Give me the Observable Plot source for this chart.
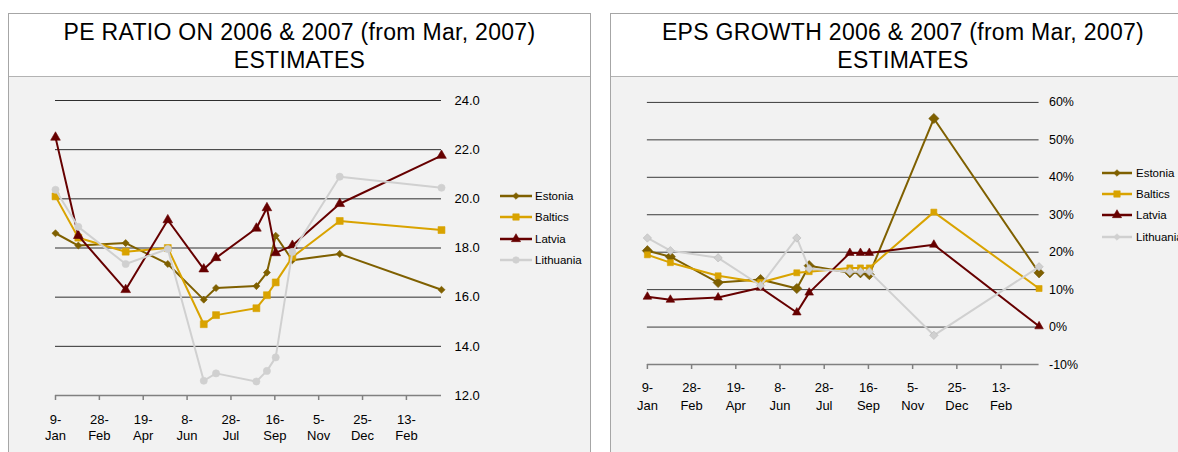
<!DOCTYPE html>
<html><head><meta charset="utf-8">
<script src="https://cdn.jsdelivr.net/npm/d3@7"></script>
<script src="https://cdn.jsdelivr.net/npm/@observablehq/plot@0.6"></script>
<style>
body{margin:0;background:#fff;font-family:"Liberation Sans",Arial,sans-serif;}
#root{position:relative;width:1178px;height:452px;overflow:hidden;background:#fff;}
.panel{position:absolute;top:13px;height:470px;border:1px solid #a6a6a6;background:#fff;box-sizing:border-box;}
.title{height:63px;text-align:center;font-size:23px;letter-spacing:0.3px;line-height:28px;padding-top:4px;box-sizing:border-box;border-bottom:1px solid #b3b3b3;color:#000;white-space:nowrap;}
.area{position:absolute;top:63px;left:0;right:0;bottom:0;background:#f2f2f2;}
.area svg{position:absolute;left:0;top:0;}
.legend{position:absolute;left:0;top:0;overflow:visible;}
</style>
</head><body>
<div id="root">
  <div class="panel" id="p1" style="left:8px;width:583px;">
    <div class="title">PE RATIO ON 2006 &amp; 2007 (from Mar, 2007)<br>ESTIMATES</div>
    <div class="area" id="a1"></div>
  </div>
  <div class="panel" id="p2" style="left:610px;width:600px;">
    <div class="title" style="width:584px">EPS GROWTH 2006 &amp; 2007 (from Mar, 2007)<br>ESTIMATES</div>
    <div class="area" id="a2"></div>
  </div>
</div>
<script>
// ---- data ----
const seriesNames = ["Estonia", "Baltics", "Latvia", "Lithuania"];
const seriesColors = ["#7f6000", "#d9a300", "#660000", "#d0d0d0"];

const tickDates = ["2006-01-09","2006-02-28","2006-04-19","2006-06-08","2006-07-28","2006-09-16","2006-11-05","2006-12-25","2007-02-13"];
const tickLabels = ["9-Jan","28-Feb","19-Apr","8-Jun","28-Jul","16-Sep","5-Nov","25-Dec","13-Feb"];

// PE ratio chart
const peDates = ["2006-01-09","2006-02-04","2006-03-30","2006-05-17","2006-06-27","2006-07-11","2006-08-26","2006-09-07","2006-09-17","2006-10-06","2006-11-29","2007-03-25"];
const peEstonia   = [18.6, 18.1, 18.2, 17.35, 15.9, 16.37, 16.45, 17.0, 18.5, 17.5, 17.76, 16.3];
const peBaltics   = [20.1, 18.42, 17.85, 18.0, 14.9, 15.27, 15.55, 16.08, 16.6, 17.63, 19.1, 18.73];
const peLatvia    = [22.5, 18.5, 16.3, 19.14, 17.14, 17.6, 18.8, 19.63, 17.8, 18.1, 19.8, 21.76];
const peLithuania = [20.37, 18.86, 17.35, 17.96, 12.6, 12.9, 12.57, 13.0, 13.55, 17.84, 20.9, 20.45];
const peTicks = [12, 14, 16, 18, 20, 22, 24];

// EPS growth chart (%)
const epsDates = ["2006-01-09","2006-02-04","2006-03-30","2006-05-17","2006-06-27","2006-07-11","2006-08-26","2006-09-07","2006-09-17","2006-11-29","2007-03-28"];
const epsEstonia   = [20.4, 18.8, 11.9, 12.7, 10.3, 16.4, 14.5, 14.5, 14.0, 55.7, 14.5];
const epsBaltics   = [19.3, 17.2, 13.7, 11.9, 14.5, 14.8, 15.8, 15.8, 15.8, 30.7, 10.3];
const epsLatvia    = [8.1, 7.3, 7.9, 10.5, 3.9, 9.2, 19.8, 19.8, 19.8, 22.0, 0.2];
const epsLithuania = [23.8, 20.4, 18.5, 11.1, 23.8, 15.6, 14.8, 14.8, 14.8, -2.2, 16.1];
const epsTicks = [-10, 0, 10, 20, 30, 40, 50, 60];

// ---- build ----
const font = "'Liberation Sans', Arial, sans-serif";
const labelOf = new Map(tickDates.map((d, i) => [+new Date(d), tickLabels[i].replace("-", "-\n")]));

function rowsOf(dates, arrays) {
  const rows = [];
  arrays.forEach((vals, s) => vals.forEach((v, i) => rows.push({date: new Date(dates[i]), value: v, series: seriesNames[s]})));
  return rows;
}

function seriesMarks(rows, styles) {
  const marks = [];
  seriesNames.forEach((name, i) => {
    const d = rows.filter(r => r.series === name);
    const st = styles[i];
    marks.push(Plot.line(d, {x: "date", y: "value", stroke: seriesColors[i], strokeWidth: 2}));
    marks.push(Plot.dot(d, {x: "date", y: "value", symbol: st.symbol, r: st.r, fill: st.fill || seriesColors[i], stroke: st.stroke || seriesColors[i], strokeWidth: st.sw || 0.6}));
  });
  return marks;
}

function legend(container, styles, x0, x1, xt, ys, fs) {
  const svg = d3.select(container).append("svg").attr("class", "legend").attr("width", 700).attr("height", 300)
    .style("font-family", font).style("font-size", fs + "px");
  const symMap = {diamond2: d3.symbolDiamond2, square: d3.symbolSquare, triangle: d3.symbolTriangle, circle: d3.symbolCircle};
  seriesNames.forEach((name, i) => {
    const y = ys[i], st = styles[i];
    svg.append("line").attr("x1", x0).attr("x2", x1).attr("y1", y).attr("y2", y).attr("stroke", seriesColors[i]).attr("stroke-width", 2.5);
    svg.append("path").attr("transform", `translate(${(x0 + x1) / 2},${y})`)
      .attr("d", d3.symbol(symMap[st.symbol], Math.PI * st.lr * st.lr)())
      .attr("fill", seriesColors[i]).attr("stroke", seriesColors[i]).attr("stroke-width", 0.6);
    svg.append("text").attr("x", xt).attr("y", y).attr("dy", "0.35em").attr("fill", "#000").text(name);
  });
}

// PE chart
const peStyles = [
  {symbol: "diamond2", r: 3.2, lr: 3},
  {symbol: "square", r: 3.9, lr: 3.6},
  {symbol: "triangle", r: 3.6, lr: 3.4},
  {symbol: "circle", r: 3.6, lr: 3.3}
];
const peRows = rowsOf(peDates, [peEstonia, peBaltics, peLatvia, peLithuania]);
const pe = Plot.plot({
  width: 580, height: 380,
  marginLeft: 46, marginRight: 148, marginTop: 23, marginBottom: 62,
  style: {background: "transparent", fontFamily: font, color: "#000", overflow: "visible"},
  x: {type: "utc", domain: [new Date(peDates[0]), new Date(peDates[peDates.length - 1])]},
  y: {domain: [12, 24]},
  marks: [
    Plot.ruleY(peTicks.slice(1), {stroke: "#2e2e2e", strokeWidth: 1}),
    Plot.ruleY([peTicks[0]], {stroke: "#808080", strokeWidth: 1.5}),
    Plot.axisY({anchor: "right", label: null, ticks: peTicks, tickSize: 0, tickPadding: 13, tickFormat: d => d.toFixed(1), fontSize: 13}),
    Plot.axisX({label: null, ticks: tickDates.map(d => new Date(d)), tickFormat: d => labelOf.get(+d), tickSize: 5, tickPadding: 11, fontSize: 13, lineHeight: 1.3, stroke: "#808080", strokeWidth: 1.5}),
    ...seriesMarks(peRows, peStyles)
  ]
});
document.getElementById("a1").appendChild(pe);
legend(document.getElementById("a1"), peStyles, 491, 523, 526, [119, 140, 162, 183], 11.5);

// EPS chart
const epsStyles = [
  {symbol: "diamond2", r: 4.6, lr: 3, stroke: "#6a5000"},
  {symbol: "square", r: 3.4, lr: 3.6},
  {symbol: "triangle", r: 3.2, lr: 3.4},
  {symbol: "diamond2", r: 3.8, lr: 3, stroke: "#b8b8b8"}
];
const epsRows = rowsOf(epsDates, [epsEstonia, epsBaltics, epsLatvia, epsLithuania]);
const eps = Plot.plot({
  width: 600, height: 380,
  marginLeft: 36, marginRight: 171, marginTop: 25, marginBottom: 92,
  style: {background: "transparent", fontFamily: font, color: "#000", overflow: "visible"},
  x: {type: "utc", domain: [new Date(epsDates[0]), new Date(epsDates[epsDates.length - 1])]},
  y: {domain: [-10, 60]},
  marks: [
    Plot.ruleY(epsTicks.slice(1), {stroke: "#3a3a3a", strokeWidth: 1}),
    Plot.ruleY([epsTicks[0]], {stroke: "#808080", strokeWidth: 1.5}),
    Plot.axisY({anchor: "right", label: null, ticks: epsTicks, tickSize: 0, tickPadding: 10, tickFormat: d => d + "%", fontSize: 12.5}),
    Plot.axisX({label: null, ticks: tickDates.map(d => new Date(d)), tickFormat: d => labelOf.get(+d), tickSize: 5, tickPadding: 10, fontSize: 13, lineHeight: 1.38, stroke: "#808080", strokeWidth: 1.5}),
    ...seriesMarks(epsRows, epsStyles)
  ]
});
document.getElementById("a2").appendChild(eps);
legend(document.getElementById("a2"), epsStyles, 491, 521, 525, [96, 117, 138, 160], 11.5);
</script>
</body></html>
